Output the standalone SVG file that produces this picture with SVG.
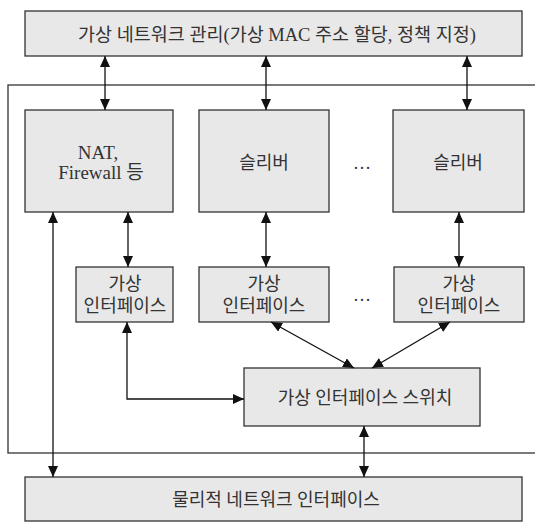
<svg xmlns="http://www.w3.org/2000/svg" width="535" height="522" viewBox="0 0 535 522">
<style>
.box{fill:#e8e8e8;stroke:#333;stroke-width:1.3}
.frame{fill:none;stroke:#333;stroke-width:1.3}
.t{font-family:"Liberation Serif","Noto Sans CJK KR",serif;font-size:18px;fill:#333;text-anchor:middle;dominant-baseline:central}
.big{font-size:18.5px}
.lat{font-size:19px}
.c{fill:none;stroke:#111;stroke-width:1.3;marker-start:url(#ah);marker-end:url(#ah)}
</style>
<defs>
<marker id="ah" markerUnits="userSpaceOnUse" markerWidth="12" markerHeight="11" refX="11" refY="5" orient="auto-start-reverse">
<path d="M0,0 L11,5 L0,10 z" fill="#111"/>
</marker>
</defs>
<rect class="frame" x="8" y="85" width="540" height="368"/>
<g id="mgmt"><rect class="box" x="25" y="11" width="497" height="45"/><text class="t big" x="277" y="35">가상 네트워크 관리(가상 MAC 주소 할당, 정책 지정)</text></g>
<g id="nat"><rect class="box" x="25" y="110" width="148" height="102"/><text class="t lat" x="98" y="152">NAT,</text><text class="t lat" x="101" y="172">Firewall 등</text></g>
<g id="slave1"><rect class="box" x="199" y="110" width="130" height="102"/><text class="t" x="264" y="163">슬리버</text></g>
<g id="dots1"><text class="t" x="362" y="163">…</text></g>
<g id="slave2"><rect class="box" x="393" y="110" width="131" height="102"/><text class="t" x="458" y="163">슬리버</text></g>
<g id="vi1"><rect class="box" x="76" y="267" width="97" height="55"/><text class="t" x="125" y="284">가상</text><text class="t" x="125" y="306">인터페이스</text></g>
<g id="vi2"><rect class="box" x="199" y="267" width="130" height="55"/><text class="t" x="264" y="284">가상</text><text class="t" x="264" y="306">인터페이스</text></g>
<g id="dots2"><text class="t" x="362" y="295">…</text></g>
<g id="vi3"><rect class="box" x="394" y="267" width="130" height="55"/><text class="t" x="459" y="284">가상</text><text class="t" x="459" y="306">인터페이스</text></g>
<g id="switch"><rect class="box" x="244" y="368" width="236" height="58"/><text class="t" x="365" y="398">가상 인터페이스 스위치</text></g>
<g id="phys"><rect class="box" x="25" y="477" width="497" height="44"/><text class="t" x="276" y="500">물리적 네트워크 인터페이스</text></g>
<g id="connectors">
<line class="c" x1="105" y1="56" x2="105" y2="110"/>
<line class="c" x1="266" y1="56" x2="266" y2="110"/>
<line class="c" x1="467" y1="56" x2="467" y2="110"/>
<line class="c" x1="128" y1="212" x2="128" y2="267"/>
<line class="c" x1="266" y1="212" x2="266" y2="267"/>
<line class="c" x1="459" y1="212" x2="459" y2="267"/>
<line class="c" x1="53" y1="212" x2="53" y2="477"/>
<polyline class="c" points="127,322 127,399 244,399"/>
<line class="c" x1="271" y1="322" x2="354" y2="368"/>
<line class="c" x1="450" y1="322" x2="372" y2="368"/>
<line class="c" x1="364" y1="426" x2="364" y2="477"/>
</g>
</svg>
